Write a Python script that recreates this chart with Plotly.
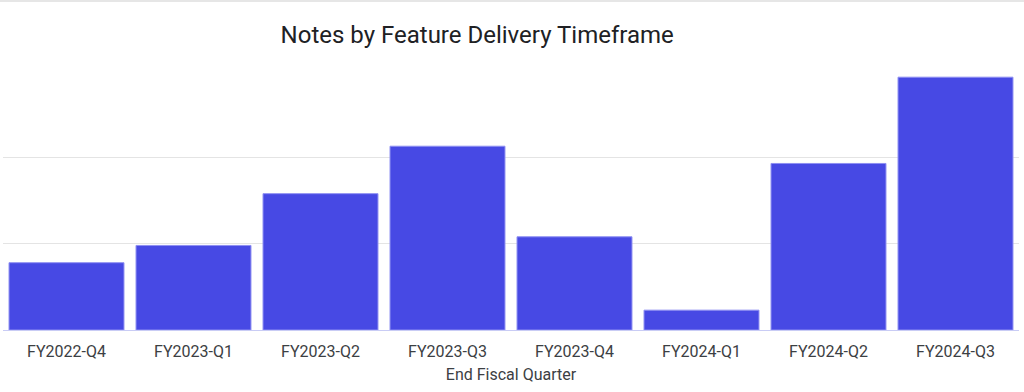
import plotly.graph_objects as go

categories = ["FY2022-Q4", "FY2023-Q1", "FY2023-Q2", "FY2023-Q3",
              "FY2023-Q4", "FY2024-Q1", "FY2024-Q2", "FY2024-Q3"]
notes = [78, 98, 158, 213, 108, 23, 193, 293]
y_ticks = [0, 100, 200]

fig = go.Figure(go.Bar(
    x=categories, y=notes,
    marker=dict(color="#4749E4", line=dict(color="#8E8FF2", width=1)),
    hoverinfo="x+y",
))

fig.update_layout(
    width=1024, height=392,
    margin=dict(l=3, r=5, t=72, b=62),
    paper_bgcolor="white", plot_bgcolor="white",
    bargap=0.095,
    showlegend=False,
    title=dict(text="Notes by Feature Delivery Timeframe",
               x=0.466, xanchor="center", y=0.913, yanchor="middle",
               font=dict(family="Roboto, Open Sans, sans-serif", size=24, color="#202124")),
    font=dict(family="Roboto, sans-serif", color="#3C4043"),
)
fig.update_xaxes(
    title=dict(text="End Fiscal Quarter", font=dict(size=16, color="#3C4043"), standoff=8),
    tickfont=dict(size=16, color="#3C4043"),
    ticklabelstandoff=7,
    showline=True, linecolor="#C9CCF5", linewidth=1,
    ticks="", showgrid=False,
)
fig.update_yaxes(
    range=[0, 299], tickvals=y_ticks, showticklabels=False,
    showgrid=True, gridcolor="#E4E4E4", gridwidth=1,
    zeroline=False, ticks="",
)
fig.add_shape(type="line", xref="paper", yref="paper",
              x0=-0.01, x1=1.01, y0=1.275, y1=1.275,
              line=dict(color="#E6E6E6", width=2))

fig.write_html("out.html", config={"displayModeBar": False},
               post_script="document.body.style.margin='0';")
